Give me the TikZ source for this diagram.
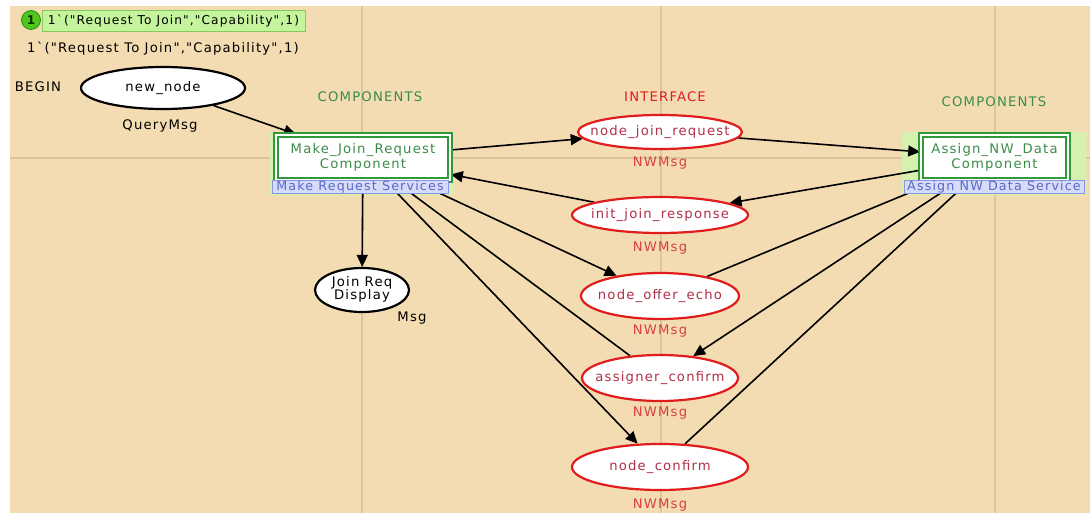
\documentclass[tikz,border=0pt]{standalone}
\usepackage{fontspec}
\setmainfont{DejaVu Sans}[Ligatures=TeXOff, LetterSpace=9]
\usetikzlibrary{arrows.meta,fit,shapes.geometric}
\pgfdeclarelayer{back}
\pgfdeclarelayer{edges}
\pgfdeclarelayer{glowl}
\pgfsetlayers{back,glowl,edges,main}
\definecolor{tanbg}{HTML}{F4DCB2}
\definecolor{gridc}{HTML}{DCC49C}
\definecolor{cgreen}{HTML}{2F9A38}
\definecolor{tgreen}{HTML}{3A8C48}
\definecolor{cred}{HTML}{E01C1C}
\definecolor{tred}{HTML}{B03048}
\definecolor{nwred}{HTML}{D84040}
\definecolor{lblfill}{HTML}{D6DBF7}
\definecolor{lbldraw}{HTML}{8A96E2}
\definecolor{lbltext}{HTML}{5868CC}
\definecolor{glowc}{HTML}{D6F0B0}
\definecolor{tokfill}{HTML}{C4F59C}
\definecolor{tokdraw}{HTML}{86C85A}
\definecolor{tokc}{HTML}{52C41E}
\newcommand{\zb}[1]{\makebox[0pt]{#1}}
\tikzset{
  place/.style={ellipse, draw=black, line width=2.2pt, fill=white, inner sep=0pt},
  iface/.style={ellipse, draw=cred, line width=2.2pt, fill=white, text=tred, inner sep=0pt},
  trans/.style={rectangle, draw=cgreen, double=white, double distance=2pt, line width=1.6pt, fill=white, text=tgreen, align=center, inner sep=0pt},
  svc/.style={rectangle, draw=lbldraw, fill=lblfill, text=lbltext, line width=0.9pt, inner sep=0pt, font=\fontsize{12.7}{15}\selectfont},
  glow/.style={rectangle, fill=glowc, inner sep=2pt, rounded corners=2pt},
  arr/.style={-{Triangle[length=12pt,width=11pt]}, line width=1.6pt},
  lnk/.style={line width=1.6pt},
  nw/.style={text=nwred},
  txt/.style={inner sep=0pt}
}
\begin{document}
\begin{tikzpicture}[x=1pt,y=-1pt, font=\fontsize{13.2}{15.5}\selectfont]
\useasboundingbox (0,0) rectangle (1090,513);
\begin{pgfonlayer}{back}
  \fill[tanbg] (10,6) rectangle (1090,513);
  \draw[gridc, line width=2pt] (362,6) -- (362,513);
  \draw[gridc, line width=2pt] (661,6) -- (661,513);
  \draw[gridc, line width=2pt] (995,6) -- (995,513);
  \draw[gridc, line width=2pt] (10,158) -- (1090,158);
\end{pgfonlayer}

% token
\node[circle, fill=tokc, draw=green!50!black, line width=0.6pt, minimum size=19pt, inner sep=0pt, font=\fontsize{12}{14}\selectfont\bfseries, text=black!80!green] (tok) at (31,20) {1};
\node[rectangle, fill=tokfill, draw=tokdraw, line width=0.8pt, minimum width=263pt, minimum height=21pt, inner sep=0pt, font=\fontsize{12.2}{14}\selectfont] (toklbl) at (173.5,20.5) {\zb{1`("Request To Join","Capability",1)}};
\node[txt] (initm) at (163,49) {1`("Request To Join","Capability",1)};
\node[txt] (begin) at (38,87) {BEGIN};
\node[txt] (qm) at (160,126) {QueryMsg};
\node[txt, text=tgreen] (comp1) at (370,97) {COMPONENTS};
\node[txt, text=cred] (intf) at (665,97) {INTERFACE};
\node[txt, text=tgreen] (comp2) at (994,102) {COMPONENTS};

% places
\node[place, minimum width=164pt, minimum height=42pt] (nn) at (163,88) {\zb{new\_node}};
\node[place, minimum width=94pt, minimum height=44pt] (jrd) at (362,290) {\zb{\begin{tabular}{@{}c@{}}Join Req\\[-2pt]Display\end{tabular}}};
\node[txt] (msg) at (412,318) {Msg};

\node[iface, minimum width=164pt, minimum height=34pt] (njr) at (660,132) {\zb{node\_join\_request}};
\node[iface, minimum width=176pt, minimum height=36pt] (ijr) at (660,215) {\zb{init\_join\_response}};
\node[iface, minimum width=158pt, minimum height=46pt] (noe) at (660,296) {\zb{node\_offer\_echo}};
\node[iface, minimum width=156pt, minimum height=46pt] (ac) at (660,378) {\zb{assigner\_confirm}};
\node[iface, minimum width=176pt, minimum height=46pt] (nc) at (660,467) {\zb{node\_confirm}};
\node[txt, nw] (t1) at (660,163) {NWMsg};
\node[txt, nw] (t2) at (660,248) {NWMsg};
\node[txt, nw] (t3) at (660,331) {NWMsg};
\node[txt, nw] (t4) at (660,413) {NWMsg};
\node[txt, nw] (t5) at (660,505) {NWMsg};

% transitions
\node[trans, minimum width=174pt, minimum height=45pt] (mjr) at (363,157.5) {\zb{Make\_Join\_Request}\\\zb{Component}};
\node[svc, minimum width=176pt, minimum height=13pt] (mrs) at (360,186.5) {\zb{Make Request Services}};
\node[trans, minimum width=147pt, minimum height=45pt] (anw) at (994.5,157.5) {\zb{Assign\_NW\_Data}\\\zb{Component}};
\node[svc, minimum width=180pt, minimum height=13pt] (ands) at (994,186.5) {\zb{Assign NW Data Service}};

\begin{pgfonlayer}{glowl}
  \node[glow, fit=(mjr)(mrs)] (g1) {};
  \node[glow, fit=(anw)(ands)] (g2) {};
\end{pgfonlayer}

\begin{pgfonlayer}{edges}
  \draw[arr] (nn) -- (mjr);
  \draw[arr] (mjr) -- (njr);
  \draw[arr] (njr) -- (anw);
  \draw[arr] (anw) -- (ijr);
  \draw[arr] (ijr) -- (mjr);
  \draw[arr] (mjr) -- (jrd);
  \draw[arr] (mjr) -- (noe);
  \draw[arr] (anw) -- (ac);
  \draw[arr] (mjr) -- (nc);
  \draw[lnk] (noe) -- (anw);
  \draw[lnk] (ac) -- (mjr);
  \draw[lnk] (nc) -- (anw);
\end{pgfonlayer}
\end{tikzpicture}
\end{document}
